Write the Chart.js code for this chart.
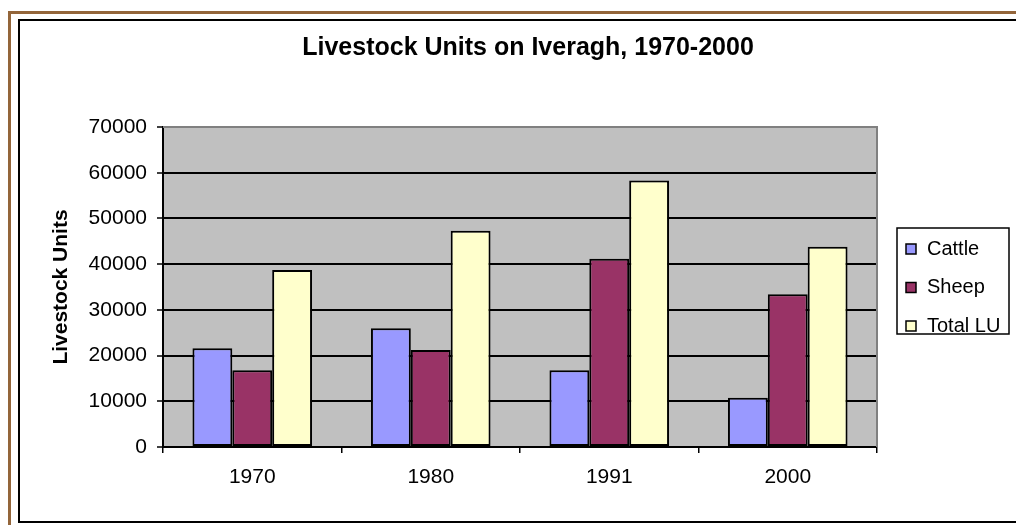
<!DOCTYPE html>
<html>
<head>
<meta charset="utf-8">
<script src="https://cdn.jsdelivr.net/npm/chart.js@4"></script>
<style>
  body { margin: 0; background: #fff; }
  #wrap { position: relative; width: 1016px; height: 525px; overflow: hidden; }
  .brown { position: absolute; left: 8px; top: 11px; width: 1200px; height: 700px; border: 3px solid #93653a; }
  .frame { position: absolute; left: 18px; top: 19px; width: 1200px; height: 500px; border: 2px solid #000; }
  canvas { position: absolute; left: 0; top: 0; }
</style>
</head>
<body>
<div id="wrap">
  <div class="brown"></div>
  <div class="frame"></div>
  <canvas id="chart" width="1016" height="525"></canvas>
</div>
<script>
const years = ['1970', '1980', '1991', '2000'];
const cattle = [21600, 26000, 16800, 10800];
const sheep = [16800, 21200, 41200, 33400];
const totalLU = [38700, 47300, 58300, 43800];

const seriesNames = ['Cattle', 'Sheep', 'Total LU'];
const seriesColors = ['#9999ff', '#993366', '#ffffcc'];

const FONT = '"Liberation Sans", Arial, sans-serif';

// grey plot background + top/right border, like the old Excel look
const plotBg = {
  id: 'plotBg',
  beforeDraw(chart) {
    const { ctx, chartArea: a } = chart;
    ctx.save();
    ctx.fillStyle = '#c0c0c0';
    ctx.fillRect(a.left, a.top, a.right - a.left, a.bottom - a.top);
    ctx.restore();
  },
  afterDatasetsDraw(chart) {
    const { ctx, chartArea: a } = chart;
    ctx.save();
    ctx.strokeStyle = '#808080';
    ctx.lineWidth = 2;
    ctx.beginPath();
    ctx.moveTo(a.left, a.top);
    ctx.lineTo(a.right, a.top);
    ctx.lineTo(a.right, a.bottom);
    ctx.stroke();
    ctx.restore();
  }
};

const titleText = {
  id: 'titleText',
  afterDraw(chart) {
    const ctx = chart.ctx;
    ctx.save();
    ctx.font = 'bold 25px ' + FONT;
    ctx.fillStyle = '#000';
    ctx.textAlign = 'center';
    ctx.textBaseline = 'middle';
    ctx.fillText('Livestock Units on Iveragh, 1970-2000', 528, 48);
    ctx.restore();
  }
};

// boxed legend on the right
const boxLegend = {
  id: 'boxLegend',
  afterDraw(chart) {
    const ctx = chart.ctx;
    const x = 897, y = 228, w = 112, h = 106;
    ctx.save();
    ctx.fillStyle = '#fff';
    ctx.fillRect(x, y, w, h);
    ctx.strokeStyle = '#000';
    ctx.lineWidth = 1.5;
    ctx.strokeRect(x, y, w, h);
    ctx.font = '20px ' + FONT;
    ctx.textBaseline = 'middle';
    chart.data.datasets.forEach((ds, i) => {
      const cy = 249 + i * 38.5;
      ctx.fillStyle = ds.backgroundColor;
      ctx.fillRect(906, cy - 5, 10, 10);
      ctx.lineWidth = 1.5;
      ctx.strokeRect(906, cy - 5, 10, 10);
      ctx.fillStyle = '#000';
      ctx.fillText(ds.label, 927, cy);
    });
    ctx.restore();
  }
};

const seriesData = [cattle, sheep, totalLU];

new Chart(document.getElementById('chart'), {
  type: 'bar',
  data: {
    labels: years,
    datasets: seriesNames.map((name, i) => ({
      label: name,
      data: seriesData[i],
      backgroundColor: seriesColors[i],
      borderColor: '#000',
      borderWidth: 2,
      borderSkipped: false,
      categoryPercentage: 0.67,
      barPercentage: 1
    }))
  },
  options: {
    responsive: false,
    animation: false,
    devicePixelRatio: 1,
    layout: { padding: { top: 127, right: 139, left: 0, bottom: 0 } },
    plugins: {
      legend: { display: false },
      title: { display: false },
      tooltip: { enabled: false }
    },
    scales: {
      x: {
        afterFit(scale) { scale.height = 78; },
        grid: {
          offset: true,
          drawOnChartArea: false,
          drawTicks: true,
          tickLength: 6,
          color: '#000',
          lineWidth: 1.5
        },
        border: { color: '#000', width: 2 },
        ticks: {
          color: '#000',
          padding: 12,
          font: { family: FONT, size: 21 }
        }
      },
      y: {
        min: 0,
        max: 70000,
        afterFit(scale) { scale.width = 163; },
        ticks: {
          stepSize: 10000,
          color: '#000',
          padding: 10,
          font: { family: FONT, size: 21 },
          callback: v => String(v)
        },
        grid: {
          color: ctx => (ctx.tick && ctx.tick.value === 70000) ? '#808080' : '#000',
          lineWidth: 2,
          tickLength: 6,
          tickColor: '#000',
          tickWidth: 1.5
        },
        border: { color: '#000', width: 2 },
        title: {
          display: true,
          text: 'Livestock Units',
          color: '#000',
          padding: { top: 49, bottom: 0 },
          font: { family: FONT, size: 21, weight: 'bold' }
        }
      }
    }
  },
  plugins: [plotBg, titleText, boxLegend]
});
</script>
</body>
</html>
